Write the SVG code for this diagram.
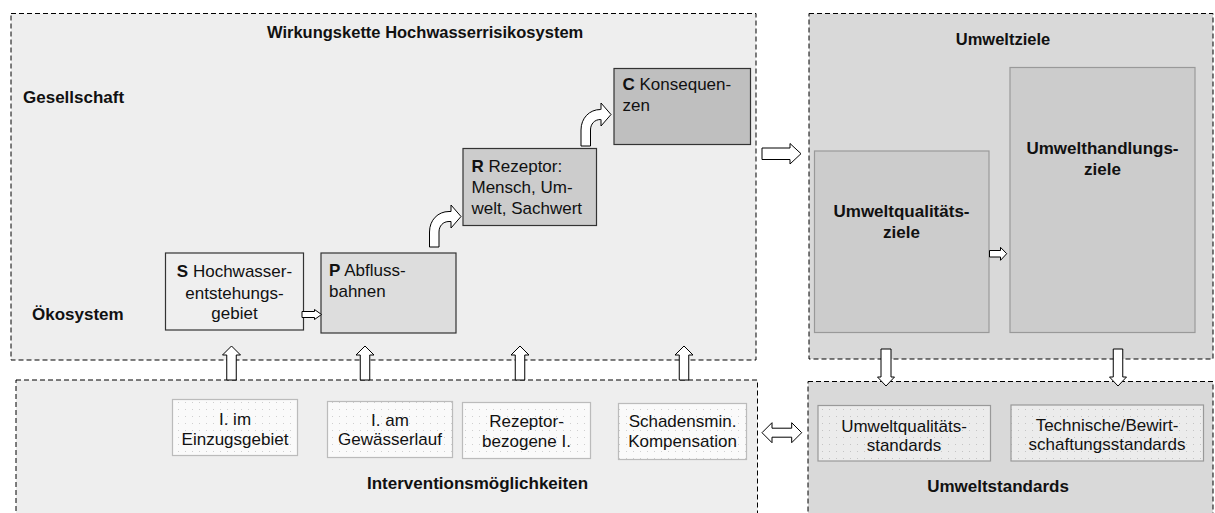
<svg xmlns="http://www.w3.org/2000/svg" width="1215" height="513" viewBox="0 0 1215 513">
<defs>
<pattern id="dotsW" width="7" height="7" patternUnits="userSpaceOnUse">
<rect width="7" height="7" fill="#fafafa"/>
<rect x="3" y="3" width="1" height="1" fill="#cfcfcf"/>
</pattern>
<pattern id="dotsG" width="7" height="7" patternUnits="userSpaceOnUse">
<rect width="7" height="7" fill="#ececec"/>
<rect x="3" y="3" width="1" height="1" fill="#c4c4c4"/>
</pattern>
<style>
.cont{stroke:#000;stroke-width:1;stroke-dasharray:5 3}
.lt{fill:#eeeeee}
.dk{fill:#d9d9d9}
.chain{stroke:#333;stroke-width:1.2}
.goal{fill:#cccccc;stroke:#999;stroke-width:1.2}
.ibox{fill:url(#dotsW);stroke:#bbb;stroke-width:1.2}
.sbox{fill:url(#dotsG);stroke:#999;stroke-width:1.2}
text{font-family:"Liberation Sans",Arial,sans-serif;font-size:17px;fill:#111}
.b{font-weight:bold}
.c{text-anchor:middle}
.t{font-size:16.5px}
.arr{fill:#fff;stroke:#000;stroke-width:1}
</style>
</defs>

<g id="container-wirkungskette">
<rect class="cont lt" x="11" y="13.5" width="745" height="346.5"/>
<text class="b t" x="267" y="38">Wirkungskette Hochwasserrisikosystem</text>
<text class="b" x="23" y="103">Gesellschaft</text>
<text class="b" x="32" y="320">Ökosystem</text>
</g>

<g id="container-umweltziele">
<rect class="cont dk" x="809" y="13.5" width="404" height="345.5"/>
<text class="b c t" x="1003" y="45">Umweltziele</text>
</g>

<g id="container-intervention">
<rect class="cont lt" x="16" y="380" width="741.5" height="140"/>
<text class="b" x="367" y="489">Interventionsmöglichkeiten</text>
</g>

<g id="container-umweltstandards">
<rect class="cont dk" x="808" y="381.5" width="405" height="140"/>
<text class="b c" x="998" y="492">Umweltstandards</text>
</g>

<g id="node-S">
<rect class="chain" fill="#efefef" x="165.5" y="253" width="138" height="77"/>
<text class="c" x="234.5" y="277"><tspan class="b">S</tspan> Hochwasser-</text>
<text class="c" x="234.5" y="298.5">entstehungs-</text>
<text class="c" x="234.5" y="319">gebiet</text>
</g>

<g id="node-P">
<rect class="chain" fill="#dddddd" x="321" y="253" width="135" height="80"/>
<text x="329" y="276"><tspan class="b">P</tspan> Abfluss-</text>
<text x="329" y="297">bahnen</text>
</g>

<g id="node-R">
<rect class="chain" fill="#cccccc" x="463" y="148.5" width="133.5" height="77"/>
<text x="471.5" y="171.5"><tspan class="b">R</tspan> Rezeptor:</text>
<text x="471.5" y="192.5">Mensch, Um-</text>
<text x="471.5" y="214">welt, Sachwert</text>
</g>

<g id="node-C">
<rect class="chain" fill="#bfbfbf" x="614" y="68.5" width="136.5" height="76"/>
<text x="622.5" y="90"><tspan class="b">C</tspan> Konsequen-</text>
<text x="622.5" y="111">zen</text>
</g>

<g id="node-UQZ">
<rect class="goal" x="814.5" y="151" width="174.5" height="181.5"/>
<text class="b c" x="901.5" y="217">Umweltqualitäts-</text>
<text class="b c" x="901.5" y="237.5">ziele</text>
</g>

<g id="node-UHZ">
<rect class="goal" x="1010" y="67.5" width="185" height="265"/>
<text class="b c" x="1102.5" y="154">Umwelthandlungs-</text>
<text class="b c" x="1102.5" y="174.5">ziele</text>
</g>

<g id="node-I1">
<rect class="ibox" x="172.5" y="399.5" width="125" height="56"/>
<text class="c" x="235" y="425">I. im</text>
<text class="c" x="235" y="444.5">Einzugsgebiet</text>
</g>

<g id="node-I2">
<rect class="ibox" x="327.5" y="401.5" width="125" height="56"/>
<text class="c" x="390" y="425.5">I. am</text>
<text class="c" x="390" y="445">Gewässerlauf</text>
</g>

<g id="node-I3">
<rect class="ibox" x="462.5" y="402.5" width="128" height="56"/>
<text class="c" x="526.5" y="427">Rezeptor-</text>
<text class="c" x="526.5" y="447">bezogene I.</text>
</g>

<g id="node-I4">
<rect class="ibox" x="618.5" y="403.5" width="128" height="56"/>
<text class="c" x="682.5" y="427">Schadensmin.</text>
<text class="c" x="682.5" y="447">Kompensation</text>
</g>

<g id="node-US1">
<rect class="sbox" x="818" y="405.5" width="172.5" height="55.5"/>
<text class="c" x="904" y="431.5">Umweltqualitäts-</text>
<text class="c" x="904" y="450.5">standards</text>
</g>

<g id="node-US2">
<rect class="sbox" x="1011" y="405" width="192.5" height="56"/>
<text class="c" x="1107" y="431">Technische/Bewirt-</text>
<text class="c" x="1107" y="450">schaftungsstandards</text>
</g>

<g id="connectors">
<path class="arr" d="M302,311.5 H314.5 V309.5 L321.5,314.5 L314.5,319.5 V317.5 H302 Z"/>
<path class="arr" d="M429.5,247 V232 C429.5,220 438,211.5 449,211.5 H451 V205 L461,216.5 L451,228 V221.5 H449 C443,221.5 439,226 439,232 V247 Z"/>
<path class="arr" d="M581,146 V130 C581,118 589.5,109.5 600.5,109.5 H601 V103 L611,114.5 L601,126 V119.5 H600.5 C594.5,119.5 590.5,124 590.5,130 V146 Z"/>
<path class="arr" d="M762,148 H790 V143.5 L801,153.7 L790,164 V159.5 H762 Z"/>
<path class="arr" d="M989.5,250.5 H1000.5 V247.3 L1006.7,253.7 L1000.5,260.3 V257 H989.5 Z"/>
<path class="arr" d="M226.75,380 V355 H222.5 L231.5,346 L240.5,355 H236.25 V380 Z"/>
<path class="arr" d="M360.25,380 V355 H356 L365,346 L374,355 H369.75 V380 Z"/>
<path class="arr" d="M515.25,380 V355 H511 L520,346 L529,355 H524.75 V380 Z"/>
<path class="arr" d="M679.25,380 V355 H675 L684,346 L693,355 H688.75 V380 Z"/>
<path class="arr" d="M881,349 V377 H877.5 L886,386 L894.5,377 H891 V349 Z"/>
<path class="arr" d="M1113.25,349 V377 H1109.5 L1118,386 L1126.5,377 H1122.75 V349 Z"/>
<path class="arr" d="M762,432.7 L772,422.7 V428.2 H791.7 V422.7 L801.7,432.7 L791.7,442.7 V437.2 H772 V442.7 Z"/>
</g>
</svg>
